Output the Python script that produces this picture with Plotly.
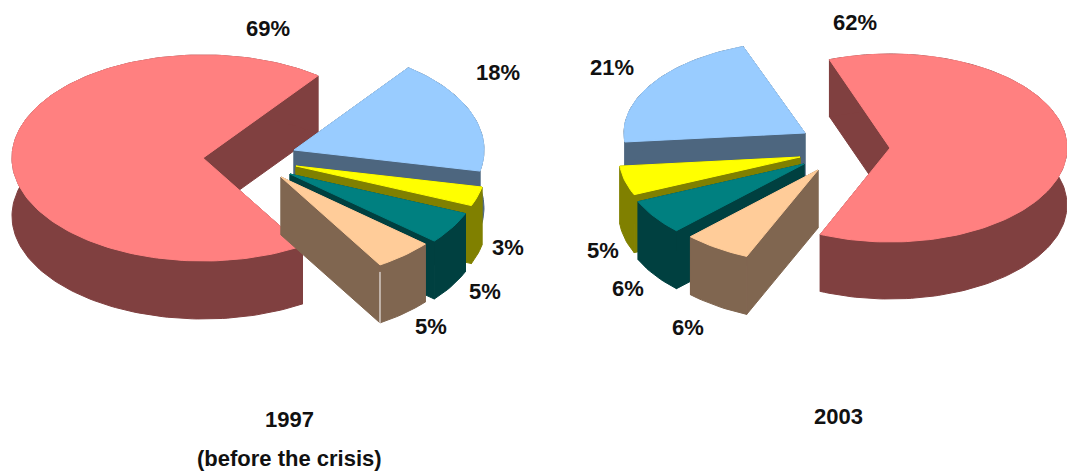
import math
import plotly.graph_objects as go

# ---- data ----
slice_names = ["Main", "Second", "Third", "Fourth", "Fifth"]
values_1997 = [69, 18, 3, 5, 5]
values_2003 = [62, 21, 5, 6, 6]
title_1997 = ["1997", "(before the crisis)"]
title_2003 = ["2003"]

# ---- styling / projection ----
TOP = ["#FF8080", "#99CCFF", "#FFFF00", "#008080", "#FFCC99"]
SIDE = ["#804040", "#4D667F", "#808000", "#004040", "#806650"]
FONT = dict(family="'Liberation Sans', Arial, sans-serif", size=22, color="#111111", weight="bold")

LEFT = dict(start=53.0, direction=-1, rx=[191, 190, 190, 190, 190], ry=[103, 103, 103, 103, 103], depth=[58, 58, 58, 58, 58],
            apex=[(203, 158), (294, 150), (296, 166), (290, 174), (281, 177)])
RIGHT = dict(start=110.0, direction=1, rx=[177, 181, 181, 181, 181], ry=[94, 92, 94, 94, 94], depth=[57, 58, 58, 58, 58],
             apex=[(890, 148), (805, 133), (800, 157), (804, 164), (818, 170)])

LABELS_1997 = [(268, 28), (498, 72), (508, 247), (485, 291), (431, 326)]
LABELS_2003 = [(855, 22), (612, 67), (603, 250), (628, 288), (688, 327)]


def arc(cx, cy, rx, ry, a0, a1, dy=0.0):
    n = max(2, int(abs(a1 - a0) / 1.5))
    pts = []
    for i in range(n + 1):
        t = math.radians(a0 + (a1 - a0) * i / n)
        pts.append((cx + rx * math.cos(t), cy - ry * math.sin(t) + dy))
    return pts


def add_poly(fig, pts, color, name, hover="skip"):
    x = [p[0] for p in pts] + [pts[0][0]]
    y = [p[1] for p in pts] + [pts[0][1]]
    fig.add_trace(go.Scatter(x=x, y=y, mode="lines", fill="toself", fillcolor=color,
                             line=dict(color=color, width=1), name=name, hoverinfo=hover))


def add_pie(fig, values, cfg, year):
    # Small slices follow each other from the start angle; the main slice takes the rest.
    d = cfg["direction"]
    spans = [v * 3.6 for v in values]
    angles = {}
    a = cfg["start"]
    for i in range(1, len(values)):
        angles[i] = (a, a + d * spans[i])
        a += d * spans[i]
    angles[0] = (a, a + d * spans[0])

    for i in range(len(values)):
        a0, a1 = angles[i]
        cx, cy = cfg["apex"][i]
        rx, ry, h = cfg["rx"][i], cfg["ry"][i], cfg["depth"][i]
        top_arc = arc(cx, cy, rx, ry, a0, a1)
        low_arc = arc(cx, cy, rx, ry, a0, a1, h)
        name = f"{year} {slice_names[i]} {values[i]}%"
        add_poly(fig, [(cx, cy), top_arc[0], low_arc[0], (cx, cy + h)], SIDE[i], name + " side")
        add_poly(fig, [(cx, cy), top_arc[-1], low_arc[-1], (cx, cy + h)], SIDE[i], name + " side")
        add_poly(fig, top_arc + low_arc[::-1], SIDE[i], name + " side")
        add_poly(fig, [(cx, cy)] + top_arc, TOP[i], name, "name")
        # thin seam on the corner of the last 1997 slice
        if year == 1997 and i == 4:
            fig.add_trace(go.Scatter(x=[top_arc[-1][0]] * 2, y=[top_arc[-1][1] + 7, low_arc[-1][1]],
                                     mode="lines", line=dict(color="white", width=1), hoverinfo="skip"))


fig = go.Figure()
add_pie(fig, values_1997, LEFT, 1997)
add_pie(fig, values_2003, RIGHT, 2003)

notes = []
for vals, pos in ((values_1997, LABELS_1997), (values_2003, LABELS_2003)):
    for v, (x, y) in zip(vals, pos):
        notes.append(dict(x=x, y=y, text=f"{v}%", showarrow=False, font=FONT, xref="x", yref="y"))
notes.append(dict(x=289, y=419, text=title_1997[0], showarrow=False, font=FONT, xref="x", yref="y"))
notes.append(dict(x=289, y=458, text=title_1997[1], showarrow=False, font=FONT, xref="x", yref="y"))
notes.append(dict(x=838, y=416, text=title_2003[0], showarrow=False, font=FONT, xref="x", yref="y"))

fig.update_layout(
    width=1067, height=473, margin=dict(l=0, r=0, t=0, b=0),
    paper_bgcolor="white", plot_bgcolor="white", showlegend=False, annotations=notes,
    xaxis=dict(range=[0, 1067], visible=False, fixedrange=True),
    yaxis=dict(range=[473, 0], visible=False, fixedrange=True),
)
fig.write_html("out.html", config=dict(displayModeBar=False),
               post_script="document.body.style.margin='0';document.body.style.overflow='hidden';")
